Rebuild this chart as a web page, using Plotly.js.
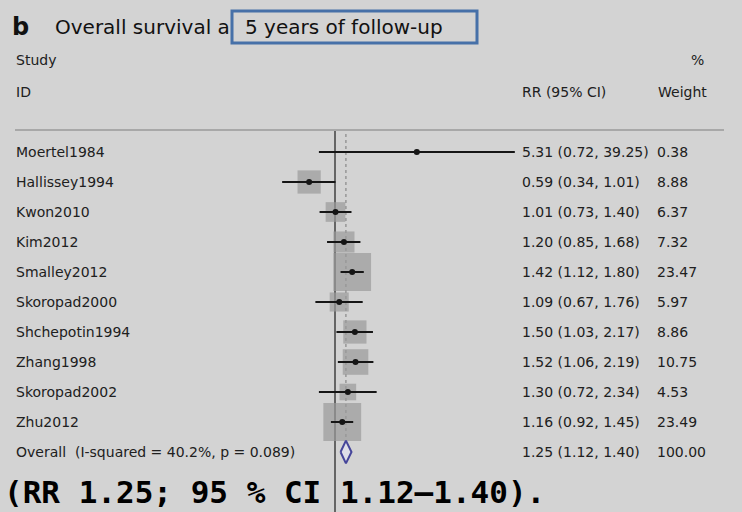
<!DOCTYPE html>
<html>
<head>
<meta charset="utf-8">
<script src="https://cdn.plot.ly/plotly-3.0.1.min.js"></script>
<style>
  html, body { margin: 0; padding: 0; background: #d3d3d3; }
  #plot { width: 742px; height: 512px; }
</style>
</head>
<body>
<div id="plot"></div>
<script>
// Forest plot: overall survival at 5 years of follow-up (risk ratios, log scale)
const studies = ["Moertel1984", "Hallissey1994", "Kwon2010", "Kim2012", "Smalley2012",
                 "Skoropad2000", "Shchepotin1994", "Zhang1998", "Skoropad2002", "Zhu2012"];
const rr     = [5.31, 0.59, 1.01, 1.20, 1.42, 1.09, 1.50, 1.52, 1.30, 1.16];
const lo     = [0.72, 0.34, 0.73, 0.85, 1.12, 0.67, 1.03, 1.06, 0.72, 0.92];
const hi     = [39.25, 1.01, 1.40, 1.68, 1.80, 1.76, 2.17, 2.19, 2.34, 1.45];
const weight = [0.38, 8.88, 6.37, 7.32, 23.47, 5.97, 8.86, 10.75, 4.53, 23.49];

const overallLabel = "Overall  (I-squared = 40.2%, p = 0.089)";
const overallRR = 1.25;
const overallLo = 1.12;
const overallHi = 1.40;
const overallWeight = 100.00;

const headerStudy = ["Study", "ID"];
const headerEffect = "RR (95% CI)";
const headerWeight = ["%", "Weight"];
const titleLetter = "b";
const titleText = "Overall survival a";
const titleBoxed = "5 years of follow-up";
const summaryText = "(RR 1.25; 95 % CI 1.12\u20131.40).";

const W = 742, H = 512;
const rowTop = 152, rowStep = 30;           // pixel position of the first row and spacing
const rowOf = px => (px - rowTop) / rowStep; // pixel -> row coordinate
const px = x => x / W;                       // pixel -> paper x

const rows = studies.map((_, i) => i);
const overallRow = studies.length;

const bodyFont = { family: "DejaVu Sans", size: 14, color: "#202020" };
const fmt = v => v.toFixed(2);

const traces = [];

// dotted line at the pooled estimate
traces.push({
  x: [overallRR, overallRR], y: [rowOf(134), overallRow - 0.38],
  mode: "lines", line: { color: "#7a7a7a", width: 1, dash: "dot" },
  hoverinfo: "skip", showlegend: false
});
// line of no effect
traces.push({
  x: [1, 1], y: [rowOf(129), rowOf(H)],
  mode: "lines", line: { color: "#4a4a4a", width: 1.6 },
  hoverinfo: "skip", showlegend: false
});
// weight boxes
traces.push({
  x: rr, y: rows, mode: "markers",
  marker: { symbol: "square", size: weight.map(w => 7.8 * Math.sqrt(w)), color: "#9a9a9a", line: { width: 0 } },
  hoverinfo: "skip", showlegend: false
});
// point estimates with confidence intervals
traces.push({
  x: rr, y: rows, mode: "markers",
  marker: { symbol: "circle", size: 6, color: "#151515" },
  error_x: {
    type: "data", symmetric: false,
    array: hi.map((h, i) => h - rr[i]),
    arrayminus: lo.map((l, i) => rr[i] - l),
    color: "#151515", thickness: 2, width: 0
  },
  hoverinfo: "skip", showlegend: false
});
// pooled estimate diamond
const dh = 0.38;
traces.push({
  x: [overallLo, overallRR, overallHi, overallRR, overallLo],
  y: [overallRow, overallRow - dh, overallRow, overallRow + dh, overallRow],
  mode: "lines", fill: "toself", fillcolor: "#dedee8",
  line: { color: "#45459a", width: 2 },
  hoverinfo: "skip", showlegend: false
});

const annotations = [];
const addText = (x, y, text, font, anchor) => annotations.push({
  xref: "paper", yref: "y", x: px(x), y: y, text: text, showarrow: false,
  xanchor: anchor || "left", yanchor: "middle", font: font, borderpad: 0
});

// title line
addText(11, rowOf(27), "<b>" + titleLetter + "</b>", { family: "DejaVu Sans", size: 24, color: "#111" });
addText(54, rowOf(27), titleText, { family: "DejaVu Sans", size: 20, color: "#111" });
addText(244, rowOf(27), titleBoxed, { family: "DejaVu Sans", size: 20, color: "#111" });

// column headers
addText(15, rowOf(60), headerStudy[0], bodyFont);
addText(15, rowOf(92), headerStudy[1], bodyFont);
addText(521, rowOf(92), headerEffect, bodyFont);
addText(690, rowOf(60), headerWeight[0], bodyFont);
addText(657, rowOf(92), headerWeight[1], bodyFont);

// study rows
rows.forEach(i => {
  addText(15, i, studies[i], bodyFont);
  addText(521, i, fmt(rr[i]) + " (" + fmt(lo[i]) + ", " + fmt(hi[i]) + ")", bodyFont);
  addText(656, i, fmt(weight[i]), bodyFont);
});
addText(15, overallRow, overallLabel, bodyFont);
addText(521, overallRow, fmt(overallRR) + " (" + fmt(overallLo) + ", " + fmt(overallHi) + ")", bodyFont);
addText(656, overallRow, fmt(overallWeight), bodyFont);

// summary caption
addText(3, rowOf(492), "<b>" + summaryText + "</b>", { family: "DejaVu Sans Mono", size: 31, color: "#000" });

const shapes = [
  // box around the follow-up period
  { type: "rect", xref: "paper", yref: "y", x0: px(232), x1: px(477), y0: rowOf(11), y1: rowOf(43),
    line: { color: "#4670a8", width: 3 }, fillcolor: "rgba(0,0,0,0)" },
  // header rule
  { type: "line", xref: "paper", yref: "y", x0: px(15), x1: px(724), y0: rowOf(130), y1: rowOf(130),
    line: { color: "#a8a8a8", width: 2 } }
];

// 49 px per natural-log unit, RR = 1 at x = 335
const pxPerDecade = 49 * Math.LN10;
const layout = {
  width: W, height: H,
  margin: { l: 0, r: 0, t: 0, b: 0, pad: 0 },
  paper_bgcolor: "#d3d3d3", plot_bgcolor: "#d3d3d3",
  showlegend: false,
  xaxis: { type: "log", range: [-335 / pxPerDecade, (W - 335) / pxPerDecade], visible: false, fixedrange: true },
  yaxis: { range: [rowOf(H), rowOf(0)], visible: false, fixedrange: true },
  annotations: annotations,
  shapes: shapes
};

Plotly.newPlot("plot", traces, layout, { displayModeBar: false, staticPlot: true });
</script>
</body>
</html>
